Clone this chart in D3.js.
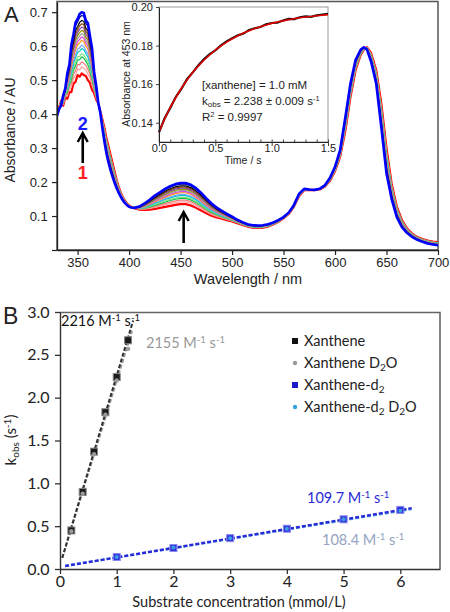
<!DOCTYPE html>
<html><head><meta charset="utf-8">
<script src="https://cdn.jsdelivr.net/npm/d3@7"></script>
<style>body{margin:0;background:#fff}svg{display:block}</style>
</head><body>
<svg id="c" width="450" height="612"></svg>
<script>
// ---------- Panel A: spectra ----------
const wavelengths = [330,332,334,336,338,340,342,344,346,348,350,352,354,356,358,360,362,364,366,368,370,372,374,376,378,380,382,384,386,388,390,392,394,396,398,400,402,405,410,415,420,425,430,435,440,445,450,455,460,465,470,475,480,485,490,495,500,505,510,515,520,525,530,535,540,545,550,555,560,565,570,575,580,585,590,595,600,605,610,615,620,625,628,631,635,640,645,650,655,660,665,670,675,680,685,690,695,700];
const specFirst = [0.425,0.415,0.44,0.425,0.45,0.445,0.465,0.465,0.49,0.495,0.515,0.51,0.52,0.515,0.512,0.50,0.492,0.472,0.462,0.443,0.432,0.41,0.385,0.36,0.33,0.305,0.28,0.255,0.23,0.205,0.185,0.168,0.155,0.145,0.137,0.131,0.127,0.123,0.119,0.118,0.119,0.121,0.124,0.127,0.130,0.133,0.135,0.135,0.131,0.124,0.116,0.108,0.101,0.096,0.092,0.088,0.084,0.079,0.074,0.069,0.066,0.065,0.066,0.069,0.075,0.083,0.093,0.106,0.127,0.158,0.176,0.177,0.176,0.178,0.186,0.203,0.232,0.275,0.35,0.45,0.53,0.575,0.59,0.597,0.58,0.53,0.43,0.30,0.195,0.128,0.088,0.063,0.048,0.038,0.032,0.028,0.025,0.023];
const specLast = [0.395,0.415,0.425,0.455,0.475,0.52,0.545,0.605,0.635,0.67,0.68,0.695,0.70,0.698,0.675,0.668,0.63,0.595,0.525,0.485,0.435,0.405,0.36,0.32,0.285,0.258,0.235,0.215,0.197,0.182,0.168,0.156,0.146,0.138,0.132,0.127,0.125,0.124,0.128,0.137,0.148,0.160,0.170,0.180,0.188,0.194,0.197,0.197,0.192,0.182,0.168,0.152,0.137,0.125,0.115,0.106,0.098,0.089,0.082,0.076,0.073,0.072,0.073,0.076,0.081,0.088,0.097,0.110,0.132,0.165,0.180,0.178,0.177,0.180,0.190,0.212,0.245,0.295,0.39,0.49,0.56,0.59,0.597,0.59,0.555,0.49,0.36,0.225,0.15,0.097,0.067,0.050,0.038,0.030,0.024,0.019,0.016,0.014];
const tracePeak355 = [0.515,0.535,0.55,0.565,0.575,0.59,0.60,0.615,0.625,0.635,0.645,0.655,0.665,0.675,0.69,0.70];
const traceColors = ["#ff0000","#ffa0a0","#f07878","#00c040","#80e080","#00c8c8","#70a0ff","#ff9900","#e040e0","#a0a0a0","#909000","#8040a0","#8b4513","#000000","#000080","#0000ff"];
const xTicksA = [350,400,450,500,550,600,650,700];
const yTicksA = [0,0.1,0.2,0.3,0.4,0.5,0.6,0.7];

// ---------- Inset: kinetic trace ----------
const insetTime = [0,0.05,0.1,0.15,0.2,0.25,0.3,0.35,0.4,0.45,0.5,0.55,0.6,0.65,0.7,0.75,0.8,0.85,0.9,0.95,1.0,1.05,1.1,1.15,1.2,1.25,1.3,1.35,1.4,1.45,1.5];
const insetFit = [0.1353,0.1420,0.1479,0.1532,0.1580,0.1623,0.1661,0.1695,0.1725,0.1752,0.1777,0.1798,0.1818,0.1835,0.1851,0.1865,0.1877,0.1888,0.1898,0.1907,0.1915,0.1922,0.1928,0.1934,0.1939,0.1944,0.1948,0.1951,0.1955,0.1958,0.1960];
const insetObs = [0.1350,0.1423,0.1477,0.1534,0.1577,0.1627,0.1661,0.1698,0.1730,0.1756,0.1775,0.1801,0.1822,0.1838,0.1853,0.1862,0.1881,0.1890,0.1896,0.1910,0.1917,0.1919,0.1930,0.1938,0.1937,0.1947,0.1951,0.1949,0.1957,0.1961,0.1964];
const xTicksInset = [0,0.5,1.0,1.5];
const yTicksInset = [0.14,0.16,0.18,0.20];

// ---------- Panel B: kobs vs concentration ----------
const concX = [0.2,0.4,0.6,0.8,1.0,1.2];
const kobsX = [0.45,0.90,1.37,1.83,2.24,2.67];
const kobsXD2O = [0.44,0.88,1.34,1.80,2.20,2.57];
const concXd2 = [1,2,3,4,5,6];
const kobsXd2 = [0.14,0.245,0.36,0.47,0.58,0.69];
const kobsXd2D2O = [0.14,0.25,0.36,0.47,0.58,0.68];
const fitXEnds = [[0.04,0.13],[1.29,2.90]];
const fitXD2OEnds = [[0.04,0.13],[1.27,2.78]];
const fitXd2Ends = [[0.09,0.035],[6.2,0.71]];
const fitXd2D2OEnds = [[0.09,0.035],[6.2,0.70]];
const xTicksB = [0,1,2,3,4,5,6];
const yTicksB = [0,0.5,1.0,1.5,2.0,2.5,3.0];
const legendLabels = [["Xanthene"],["Xanthene D","2","O"],["Xanthene-d","2",""],["Xanthene-d","2"," D","2","O"]];

const svg = d3.select("#c");
const fA = "'Liberation Sans', Arial, sans-serif";
const fB = "Lato, 'Open Sans', sans-serif";

// ===== Panel A =====
const xA = d3.scaleLinear().domain([330,700]).range([57,438]);
const yA = d3.scaleLinear().domain([0,0.73]).range([250,2]);
const gA = svg.append("g");
gA.append("rect").attr("x",57).attr("y",1.5).attr("width",381).attr("height",248.5)
  .attr("fill","none").attr("stroke","#555").attr("stroke-width",1.5);

const p0 = tracePeak355[0], pN = tracePeak355[tracePeak355.length-1];
const lineA = d3.line().x(d=>xA(d[0])).y(d=>yA(d[1])).curve(d3.curveLinear);
svg.append("clipPath").attr("id","clipA").append("rect").attr("x",57).attr("y",1).attr("width",381).attr("height",249);
tracePeak355.forEach((p,i)=>{
  const f = (p-p0)/(pN-p0);
  const pts = wavelengths.map((w,j)=>[w, specFirst[j] + f*(specLast[j]-specFirst[j])]);
  const last = i===tracePeak355.length-1, first = i===0;
  gA.append("path").attr("d",lineA(pts)).attr("fill","none")
    .attr("clip-path","url(#clipA)")
    .attr("stroke",traceColors[i]).attr("stroke-width", last?2.6:(first?2.2:1.2))
    .attr("stroke-linejoin","round");
});

const axAx = gA.append("g").attr("transform","translate(0,250)")
  .call(d3.axisBottom(xA).tickValues(xTicksA).tickSize(5).tickSizeOuter(0).tickFormat(d3.format("d")));
const axAy = gA.append("g").attr("transform","translate(57,0)")
  .call(d3.axisLeft(yA).tickValues(yTicksA).tickSize(5).tickSizeOuter(0).tickFormat(d=>d===0?"":d3.format(".1f")(d)));
[axAx,axAy].forEach(a=>{a.selectAll("text").attr("font-family",fA).attr("font-size",13).attr("fill","#222");
  a.select(".domain").attr("stroke","#222").attr("stroke-width",1.3); a.selectAll(".tick line").attr("stroke","#222").attr("stroke-width",1.2);});
axAx.selectAll("text").attr("y",8).attr("dy","0.71em");
axAy.selectAll("text").attr("dx","-0.1em");

gA.append("text").attr("x",248).attr("y",284).attr("text-anchor","middle").attr("font-family",fA).attr("font-size",14.5).attr("fill","#222").text("Wavelength / nm");
gA.append("text").attr("transform","translate(15,130) rotate(-90)").attr("text-anchor","middle").attr("font-family",fA).attr("font-size",14).attr("fill","#222").text("Absorbance / AU");
svg.append("text").attr("x",4).attr("y",22).attr("font-family",fA).attr("font-size",22).attr("fill","#222").text("A");

// arrows
function arrow(x,y1,y2){
  gA.append("line").attr("x1",x).attr("x2",x).attr("y1",y1).attr("y2",y2+1).attr("stroke","#000").attr("stroke-width",2.6);
  gA.append("path").attr("d",`M${x-5},${y2+9}L${x},${y2}L${x+5},${y2+9}`).attr("fill","none").attr("stroke","#000").attr("stroke-width",2.4);
}
arrow(xA(355),163,133);
arrow(xA(453),243,212);
gA.append("text").attr("x",xA(355)).attr("y",130).attr("text-anchor","middle").attr("font-family",fA).attr("font-weight","bold").attr("font-size",18).attr("fill","#1a1aff").text("2");
gA.append("text").attr("x",xA(355)).attr("y",179).attr("text-anchor","middle").attr("font-family",fA).attr("font-weight","bold").attr("font-size",18).attr("fill","#ff2020").text("1");

// ===== Inset =====
const xI = d3.scaleLinear().domain([0,1.5]).range([159,328]);
const yI = d3.scaleLinear().domain([0.13,0.20]).range([142,7]);
const gI = svg.append("g");
gI.append("rect").attr("x",159).attr("y",7).attr("width",169).attr("height",135).attr("fill","#fff").attr("stroke","#999").attr("stroke-width",1);
const lineI = d3.line().x((d,i)=>xI(insetTime[i])).y(d=>yI(d));
gI.append("path").attr("d",lineI(insetObs)).attr("fill","none").attr("stroke","#111").attr("stroke-width",2.2);
gI.append("path").attr("d",lineI(insetFit)).attr("fill","none").attr("stroke","#e00000").attr("stroke-width",1.6);
const axIx = gI.append("g").attr("transform","translate(0,142)")
  .call(d3.axisBottom(xI).tickValues(xTicksInset).tickSize(4).tickSizeOuter(0).tickFormat(d3.format(".1f")));
gI.append("g").attr("transform","translate(0,142)")
  .call(d3.axisBottom(xI).tickValues(d3.range(0,1.51,0.1)).tickSize(-2.5).tickSizeOuter(0).tickFormat(""))
  .call(g=>g.select(".domain").remove());
const axIy = gI.append("g").attr("transform","translate(159,0)")
  .call(d3.axisLeft(yI).tickValues(yTicksInset).tickSize(3).tickSizeOuter(0).tickFormat(d3.format(".2f")));
[axIx,axIy].forEach(a=>{a.selectAll("text").attr("font-family",fA).attr("font-size",11).attr("fill","#222");
  a.select(".domain").attr("stroke","#222");});
gI.selectAll(".tick line").attr("stroke","#444");
axIx.selectAll("text").attr("y",2).attr("dy","0.71em");
gI.append("text").attr("x",243).attr("y",164).attr("text-anchor","middle").attr("font-family",fA).attr("font-size",10.5).attr("fill","#222").text("Time / s");
gI.append("text").attr("transform","translate(130,74) rotate(-90)").attr("text-anchor","middle").attr("font-family",fA).attr("font-size",10.5).attr("fill","#222").text("Absorbance at 453 nm");
const tI = gI.append("g").attr("font-family",fA).attr("font-size",11.5).attr("fill","#222");
tI.append("text").attr("x",202).attr("y",89).text("[xanthene] = 1.0 mM");
const k = tI.append("text").attr("x",202).attr("y",105);
k.append("tspan").text("k");
k.append("tspan").attr("font-size",8).attr("dy",2).text("obs");
k.append("tspan").attr("dy",-2).text(" = 2.238 ± 0.009 s");
k.append("tspan").attr("font-size",7.5).attr("dy",-4).text("-1");
const r = tI.append("text").attr("x",202).attr("y",121);
r.append("tspan").text("R");
r.append("tspan").attr("font-size",7.5).attr("dy",-4).text("2");
r.append("tspan").attr("dy",4).text(" = 0.9997");

// ===== Panel B =====
const xB = d3.scaleLinear().domain([0,6.7]).range([60,440]);
const yB = d3.scaleLinear().domain([0,3]).range([569,312]);
const gB = svg.append("g");
gB.append("path").attr("d","M60,312.5H440V569").attr("fill","none").attr("stroke","#666").attr("stroke-width",1.6);

function dashed(ends,color,w,dash){
  gB.append("line").attr("x1",xB(ends[0][0])).attr("y1",yB(ends[0][1])).attr("x2",xB(ends[1][0])).attr("y2",yB(ends[1][1]))
    .attr("stroke",color).attr("stroke-width",w).attr("stroke-dasharray",dash);
}
dashed(fitXD2OEnds,"#999",2,"4,2");
dashed(fitXEnds,"#333",2,"4,2");
dashed(fitXd2D2OEnds,"#5aa8e0",2.4,"4,2");
dashed(fitXd2Ends,"#2a2ad8",2.4,"4,2");

function squares(xs,ys,fill,stroke){
  gB.append("g").selectAll("rect").data(xs).join("rect")
    .attr("x",(d)=>xB(d)-3.5).attr("y",(d,i)=>yB(ys[i])-3.5).attr("width",7).attr("height",7)
    .attr("fill",fill).attr("stroke",stroke).attr("stroke-width",1);
}
function circles(xs,ys,fill,rad){
  gB.append("g").selectAll("circle").data(xs).join("circle")
    .attr("cx",d=>xB(d)).attr("cy",(d,i)=>yB(ys[i])).attr("r",rad).attr("fill",fill);
}
squares(concX,kobsX,"#1a1a1a","#888");
circles(concX,kobsXD2O,"#999",2.2);
squares(concXd2,kobsXd2,"#3333dd","#8888ee");
circles(concXd2,kobsXd2D2O,"#3aa0e0",2);

const axBx = gB.append("g").attr("transform","translate(0,569)")
  .call(d3.axisBottom(xB).tickValues(xTicksB).tickSize(5).tickSizeOuter(0).tickFormat(d3.format("d")));
const axBy = gB.append("g").attr("transform","translate(60,0)")
  .call(d3.axisLeft(yB).tickValues(yTicksB).tickSize(5).tickSizeOuter(0).tickFormat(d3.format(".1f")));
[axBx,axBy].forEach(a=>{a.selectAll("text").attr("font-family",fB).attr("font-size",16).attr("fill","#222");
  a.select(".domain").attr("stroke","#333").attr("stroke-width",1.4); a.selectAll(".tick line").attr("stroke","#333").attr("stroke-width",1.3);});
axBx.selectAll("text").attr("y",7).attr("dy","0.71em");
axBy.selectAll("text").attr("dx","-0.15em");

gB.append("text").attr("x",239).attr("y",607).attr("text-anchor","middle").attr("font-family",fB).attr("font-size",14.5).attr("fill","#222").text("Substrate concentration (mmol/L)");
const yl = gB.append("text").attr("transform","translate(16,440) rotate(-90)").attr("text-anchor","middle").attr("font-family",fB).attr("font-size",15).attr("fill","#222");
yl.append("tspan").text("k");
yl.append("tspan").attr("font-size",10).attr("dy",3).text("obs");
yl.append("tspan").attr("dy",-3).text(" (s");
yl.append("tspan").attr("font-size",10).attr("dy",-5).text("-1");
yl.append("tspan").attr("dy",5).text(")");
svg.append("text").attr("x",3).attr("y",324).attr("font-family",fA).attr("font-size",23).attr("fill","#222").text("B");

function rateLabel(x,y,num,color){
  const t = gB.append("text").attr("x",x).attr("y",y).attr("font-family",fB).attr("font-size",14.5).attr("fill",color);
  t.append("tspan").text(num+" M");
  t.append("tspan").attr("font-size",9.5).attr("dy",-5).text("-1");
  t.append("tspan").attr("dy",5).text(" s");
  t.append("tspan").attr("font-size",9.5).attr("dy",-5).text("-1");
}
rateLabel(61,326,"2216","#111");
rateLabel(146,348,"2155","#999");
rateLabel(307,503,"109.7","#2a2ad8");
rateLabel(322,545,"108.4","#94a4c0");

// legend
const legend = gB.append("g").attr("font-family",fB).attr("font-size",14.5).attr("fill","#222");
const legY = [341,363,385,407];
legendLabels.forEach((lab,i)=>{
  const y = legY[i];
  if(i===0) legend.append("rect").attr("x",292).attr("y",y-3).attr("width",6).attr("height",6).attr("fill","#111");
  if(i===1) legend.append("circle").attr("cx",295).attr("cy",y).attr("r",2.2).attr("fill","#999");
  if(i===2) legend.append("rect").attr("x",292).attr("y",y-3).attr("width",6).attr("height",6).attr("fill","#1a1acc");
  if(i===3) legend.append("circle").attr("cx",295).attr("cy",y).attr("r",2.2).attr("fill","#3aa0e0");
  const t = legend.append("text").attr("x",304).attr("y",y+5);
  lab.forEach((s,j)=>{
    const sub = (s==="2");
    const ts = t.append("tspan").text(s);
    if(sub){ts.attr("font-size",10).attr("dy",3);}
    else if(j>0 && lab[j-1]==="2"){ts.attr("dy",-3);}
  });
});
</script>
</body></html>
